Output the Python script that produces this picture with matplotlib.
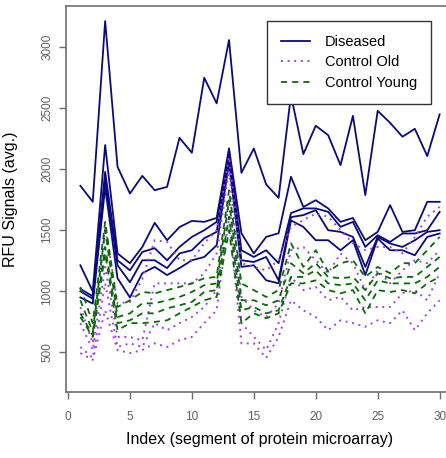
import matplotlib
matplotlib.use("Agg")
import matplotlib.pyplot as plt
import numpy as np

plt.rcParams["font.family"] = ["Liberation Sans", "DejaVu Sans"]

# ── data ──────────────────────────────────────────────────────────────────────
index = list(range(1, 31))

diseased = [
    [1863, 1732, 3210, 2018, 1800, 1944, 1827, 1854, 2255, 2133, 2746, 2537, 3055, 1969, 2168,
     1874, 1764, 2605, 2122, 2354, 2277, 2032, 2435, 1787, 2476, 2378, 2264, 2329, 2106, 2447],
    [1213, 1000, 2196, 1310, 1230, 1363, 1560, 1418, 1525, 1576, 1568, 1600, 2170, 1475, 1310,
     1445, 1475, 1937, 1690, 1745, 1678, 1568, 1600, 1418, 1486, 1705, 1486, 1500, 1732, 1732],
    [1020, 960, 1977, 1254, 1172, 1322, 1353, 1254, 1363, 1445, 1500, 1568, 2130, 1336, 1281,
     1336, 1230, 1640, 1678, 1678, 1650, 1527, 1568, 1363, 1459, 1404, 1473, 1473, 1500, 1650],
    [1000, 940, 1910, 1213, 1074, 1254, 1254, 1190, 1310, 1336, 1434, 1486, 2100, 1254, 1240,
     1281, 1090, 1607, 1623, 1664, 1500, 1486, 1445, 1200, 1445, 1391, 1363, 1418, 1486, 1500],
    [950, 900, 1850, 1107, 950, 1148, 1200, 1133, 1190, 1254, 1281, 1377, 2050, 1200, 1213,
     1090, 1065, 1580, 1527, 1418, 1418, 1336, 1418, 1133, 1432, 1336, 1336, 1295, 1445, 1473],
]

control_old = [
    [872, 575, 1527, 902, 913, 1100, 1418, 1404, 1254, 1254, 1393, 1500, 2100, 1230, 1200,
     1172, 1254, 1527, 1582, 1636, 1610, 1500, 1393, 1336, 1363, 1363, 1310, 1445, 1610, 1690],
    [740, 520, 1200, 627, 627, 600, 1065, 1065, 1065, 1065, 1148, 1310, 1990, 954, 845,
     790, 902, 1336, 1363, 1254, 1148, 1310, 1230, 1010, 1172, 1065, 1172, 1254, 1230, 1336],
    [545, 455, 1065, 545, 575, 545, 740, 682, 740, 790, 872, 1010, 1745, 740, 627,
     520, 740, 1118, 1010, 1036, 927, 954, 845, 872, 872, 872, 984, 1010, 927, 1148],
    [495, 440, 845, 520, 495, 520, 575, 545, 600, 627, 740, 845, 1610, 575, 575,
     455, 627, 927, 845, 790, 682, 763, 740, 710, 763, 740, 845, 682, 820, 927],
]

control_young = [
    [1036, 740, 1568, 872, 927, 995, 984, 1010, 1036, 1065, 1107, 1118, 1827, 1065, 1010,
     954, 1010, 1393, 1200, 1336, 1160, 1230, 1254, 1118, 1200, 1148, 1230, 1230, 1336, 1445],
    [927, 668, 1500, 790, 820, 902, 902, 927, 954, 995, 1050, 1065, 1745, 927, 927,
     886, 927, 1230, 1148, 1230, 1118, 1107, 1118, 1010, 1148, 1107, 1118, 1118, 1200, 1281],
    [820, 640, 1363, 740, 763, 820, 820, 861, 886, 913, 995, 1010, 1610, 845, 872,
     820, 845, 1118, 1118, 1172, 1065, 1050, 1065, 927, 1090, 1065, 1065, 1065, 1118, 1200],
    [790, 627, 1310, 682, 740, 740, 750, 763, 820, 872, 927, 954, 1500, 740, 820,
     780, 820, 1065, 1065, 1090, 1010, 984, 1010, 820, 1010, 995, 1010, 984, 1065, 1118],
]

x_ticks = [0, 5, 10, 15, 20, 25, 30]
y_ticks = [500, 1000, 1500, 2000, 2500, 3000]

# ── style ─────────────────────────────────────────────────────────────────────
C_DIS = "#0a0a80"
C_OLD = "#a040e0"
C_YNG = "#0a6a0a"
C_AX = "#6e6e6e"
LS_OLD = (0, (1, 2.4))
LS_YNG = (0, (3.4, 2.8))

fig = plt.figure(figsize=(4.46, 4.58), dpi=100)
fig.patch.set_facecolor("white")
# plot region runs off the right edge, as in the reference crop
ax = fig.add_axes([66 / 446, (458 - 392) / 458, 388 / 446, 386 / 458])

for s in diseased:
    ax.plot(index, s, color=C_DIS, lw=1.3, ls="-")
for s in control_old:
    ax.plot(index, s, color=C_OLD, lw=1.4, ls=LS_OLD)
for s in control_young:
    ax.plot(index, s, color=C_YNG, lw=1.3, ls=LS_YNG)

ax.set_xlim(-0.16, 31.16)
ax.set_ylim(177, 3333)
ax.set_xticks(x_ticks)
ax.set_yticks(y_ticks)
ax.set_yticklabels([str(v) for v in y_ticks], rotation=90, va="center")

for sp in ax.spines.values():
    sp.set_color(C_AX)
    sp.set_linewidth(1.2)
ax.tick_params(axis="both", direction="out", length=5, width=1.0, color=C_AX,
               labelcolor="#606060", labelsize=8.5)
ax.tick_params(axis="x", pad=9)
ax.tick_params(axis="y", pad=4)

ax.set_xlabel("Index (segment of protein microarray)", fontsize=11.5, labelpad=6)
ax.set_ylabel("RFU Signals (avg.)", fontsize=11.5)
ax.yaxis.set_label_coords(-48 / 388, 0.5)

handles = [
    plt.Line2D([], [], color=C_DIS, lw=1.3, ls="-"),
    plt.Line2D([], [], color=C_OLD, lw=1.4, ls=LS_OLD),
    plt.Line2D([], [], color=C_YNG, lw=1.3, ls=LS_YNG),
]
leg = fig.legend(handles, ["Diseased", "Control Old", "Control Young"],
                 loc="upper left", bbox_to_anchor=(267 / 446, 1 - 21 / 458),
                 fontsize=10.5, frameon=True, fancybox=False, framealpha=1,
                 edgecolor="#333333", handlelength=2.0, handletextpad=1.0,
                 borderpad=0.95, labelspacing=0.45, borderaxespad=0)
leg.get_frame().set_linewidth(1.0)

plt.savefig("out.png", dpi=100, facecolor="white")
